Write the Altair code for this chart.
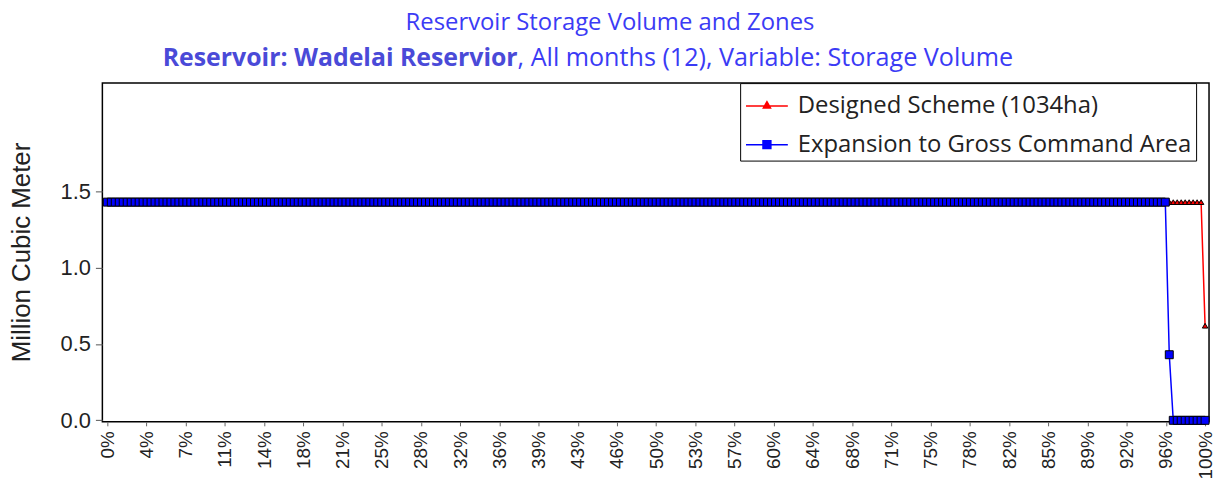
import altair as alt
import pandas as pd

# ---------------- data ----------------
series_names = ["Designed Scheme (1034ha)", "Expansion to Gross Command Area"]
series_colors = ["#ff0000", "#0000ff"]

n_intervals = 276  # points are spread evenly from 0% to 100%
designed_values = [1.43] * 276 + [0.62]
expansion_values = [1.43] * 267 + [0.43] + [0.0] * 9

tick_labels = ["0%", "4%", "7%", "11%", "14%", "18%", "21%", "25%", "28%", "32%",
               "36%", "39%", "43%", "46%", "50%", "53%", "57%", "60%", "64%", "68%",
               "71%", "75%", "78%", "82%", "85%", "89%", "92%", "96%", "100%"]
y_ticks = [0.0, 0.5, 1.0, 1.5]

title_line1 = "Reservoir Storage Volume and Zones"
title_line2_bold = "Reservoir: Wadelai Reservior"
title_line2_rest = ",  All months (12),  Variable: Storage Volume"
y_title = "Million Cubic Meter"

# ---------------- build table ----------------
rows = []
for name, vals in zip(series_names, [designed_values, expansion_values]):
    for i, v in enumerate(vals):
        rows.append({"x": i / n_intervals, "v": v, "series": name})
df = pd.DataFrame(rows)

n_t = len(tick_labels) - 1
tick_vals = [k / n_t for k in range(n_t + 1)]
label_arr = "[" + ",".join("'" + t + "'" for t in tick_labels) + "]"

x_enc = alt.X("x:Q",
              scale=alt.Scale(domain=[-0.0045, 1.0036], nice=False, zero=False),
              axis=alt.Axis(values=tick_vals,
                            labelExpr=label_arr + "[round(datum.value*" + str(n_t) + ")]",
                            labelAngle=270, labelFlush=False, labelOverlap=False,
                            labelFont="Liberation Sans", labelFontSize=19,
                            labelColor="#222222", labelPadding=5,
                            tickSize=4, tickColor="#666666", domain=False,
                            grid=False, title=None))
y_enc = alt.Y("v:Q",
              scale=alt.Scale(domain=[-0.01, 2.21], nice=False, zero=False),
              axis=alt.Axis(values=y_ticks, format=".1f",
                            labelFont="Liberation Sans", labelFontSize=22,
                            labelColor="#222222", labelPadding=5,
                            tickSize=7, tickColor="#555555", domain=False,
                            grid=False, title=y_title,
                            titleFont="Liberation Sans", titleFontSize=26,
                            titleFontWeight="normal", titleColor="#222222",
                            titleX=-81, titleY=170, titleAngle=270,
                            titleAlign="center", titleBaseline="middle"))

# legend glyphs: a line segment with the series marker in the middle
tri = "M-0.95,0L1.39,0M0.22,-0.24L0.42,0.12L0.02,0.12Z"
sq = "M-0.95,0L1.39,0M0,-0.22L0.44,-0.22L0.44,0.22L0,0.22Z"
nbsp = "\u00a0"
legend = alt.Legend(
    orient="none", legendX=642, legendY=0, title=None,
    fillColor="white", strokeColor="black", padding=4,
    labelFont="Open Sans", labelFontSize=24, labelColor="#222222",
    labelExpr="datum.label + '" + nbsp * 4 + "'",
    labelLimit=0, labelOffset=16, rowPadding=8,
    symbolSize=1296, symbolStrokeWidth=1.5, symbolOpacity=1,
)

color_scale = alt.Scale(domain=series_names, range=series_colors)

base = alt.Chart(df)
red_df = base.transform_filter(alt.datum.series == series_names[0])
blue_df = base.transform_filter(alt.datum.series == series_names[1])

line_red = red_df.mark_line(strokeWidth=1.5, color=series_colors[0]).encode(x=x_enc, y=y_enc)
line_blue = blue_df.mark_line(strokeWidth=1.5, color=series_colors[1]).encode(x=x_enc, y=y_enc)
pts_red = red_df.mark_point(
    shape="triangle-up", filled=True, fill=series_colors[0], stroke="black",
    strokeWidth=1, size=30, opacity=1
).encode(x=x_enc, y=y_enc)
pts_blue = blue_df.mark_point(
    shape="square", filled=True, fill=series_colors[1], stroke="black",
    strokeWidth=1, size=64, opacity=1
).encode(x=x_enc, y=y_enc)

leg = base.transform_filter("datum.v > 100").mark_point(
    filled=True, strokeWidth=1.5, opacity=1
).encode(
    x=x_enc, y=y_enc,
    shape=alt.Shape("series:N", scale=alt.Scale(domain=series_names, range=[tri, sq]), legend=legend),
    fill=alt.Fill("series:N", scale=color_scale, legend=legend),
    stroke=alt.Stroke("series:N", scale=color_scale, legend=legend),
)

t1 = alt.Chart(pd.DataFrame({"t": [title_line1]})).mark_text(
    font="Open Sans", fontSize=24, color="#3b3bf5", align="center", baseline="alphabetic"
).encode(x=alt.value(511), y=alt.value(-53), text="t:N")
t2a = alt.Chart(pd.DataFrame({"t": [title_line2_bold]})).mark_text(
    font="Open Sans", fontSize=25, fontWeight="bold", color="#4a4ad8", align="right", baseline="middle"
).encode(x=alt.value(418), y=alt.value(-25), text="t:N")
t2b = alt.Chart(pd.DataFrame({"t": [title_line2_rest]})).mark_text(
    font="Open Sans", fontSize=25.3, color="#3b3bf5", align="left", baseline="middle"
).encode(x=alt.value(418), y=alt.value(-25), text="t:N")

chart = alt.layer(line_red, pts_red, line_blue, pts_blue, leg, t1, t2a, t2b).properties(
    width=1114, height=341,
    background="white",
    autosize=alt.AutoSizeParams(type="none"),
    padding={"left": 95, "top": 74, "right": 4, "bottom": 68},
).configure_view(stroke="black", strokeWidth=1.5)

chart.save("out.html", embed_options={"renderer": "svg", "actions": False})
